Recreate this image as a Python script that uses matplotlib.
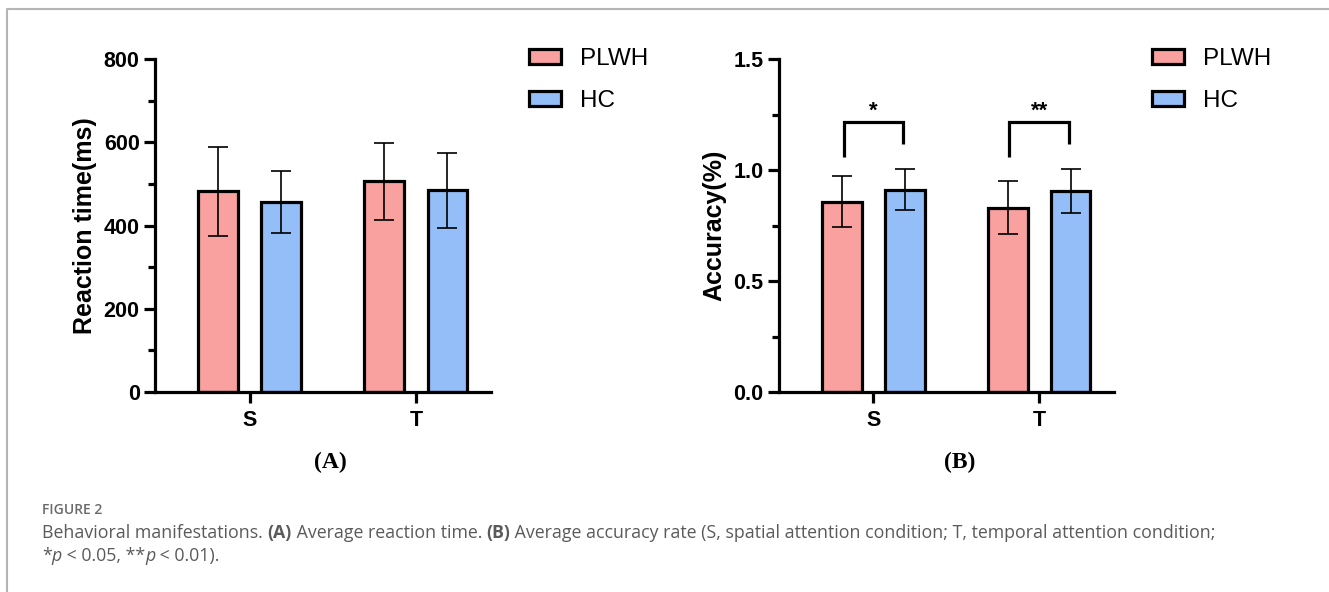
import matplotlib
matplotlib.use("Agg")
import matplotlib.pyplot as plt
import numpy as np
from matplotlib.lines import Line2D
from matplotlib.patches import Patch
from matplotlib.ticker import MultipleLocator

# data
conditions = ["S", "T"]
groups = ["PLWH", "HC"]
rt_mean = {"PLWH": [482, 506], "HC": [456, 485]}
rt_sd = {"PLWH": [107, 93], "HC": [75, 90]}
acc_mean = {"PLWH": [0.858, 0.831], "HC": [0.912, 0.906]}
acc_sd = {"PLWH": [0.116, 0.121], "HC": [0.093, 0.099]}
sig_labels = ["*", "**"]

colors = {"PLWH": "#F9A19F", "HC": "#93BEF8"}
W, H = 1329, 592

plt.rcParams["font.family"] = ["Liberation Sans", "DejaVu Sans"]

fig = plt.figure(figsize=(W / 100, H / 100), dpi=100)


def px_axes(x0, x1, y0, y1):
    return fig.add_axes([x0 / W, 1 - y1 / H, (x1 - x0) / W, (y1 - y0) / H])


def draw_panel(ax, means, sds, ymax, major, ylabel, fmt):
    x = np.arange(len(conditions))
    off, bw = 0.19, 0.24
    for g, sgn in zip(groups, [-1, 1]):
        ax.bar(x + sgn * off, means[g], bw, color=colors[g], edgecolor="black",
               linewidth=2.3, zorder=1)
        ax.errorbar(x + sgn * off, means[g], yerr=sds[g], fmt="none",
                    ecolor="black", elinewidth=1.2, capsize=7.5, capthick=1.2,
                    zorder=3)
    ax.set_xlim(-0.57, 1.452)
    ax.set_ylim(0, ymax)
    ax.spines[["top", "right"]].set_visible(False)
    for s in ["left", "bottom"]:
        ax.spines[s].set_linewidth(2.3)
    ax.yaxis.set_major_locator(MultipleLocator(major))
    ax.yaxis.set_minor_locator(MultipleLocator(major / 2))
    ax.yaxis.set_major_formatter(fmt)
    ax.tick_params(axis="y", which="major", length=8, width=2.3, labelsize=15.5, pad=3)
    ax.tick_params(axis="y", which="minor", length=5, width=2.3)
    ax.set_xticks(x)
    ax.set_xticklabels(conditions)
    ax.tick_params(axis="x", length=8, width=2.3, labelsize=15.5, pad=5)
    for lab in ax.get_xticklabels() + ax.get_yticklabels():
        lab.set_fontweight("bold")
    ax.set_ylabel(ylabel, fontsize=18, fontweight="bold", labelpad=5)
    return [Patch(facecolor=colors[g], edgecolor="black", linewidth=2.3) for g in groups]


axA = px_axes(155, 491, 59, 392)
hA = draw_panel(axA, rt_mean, rt_sd, 800, 200, "Reaction time(ms)", "{x:.0f}")
axB = px_axes(779, 1114, 59, 392)
hB = draw_panel(axB, acc_mean, acc_sd, 1.5, 0.5, "Accuracy(%)", "{x:.1f}")

for ax, h, lx in [(axA, hA, 529), (axB, hB, 1152)]:
    ax.legend(h, groups, loc="upper left", bbox_to_anchor=(lx / W, 1 - 48 / H),
              bbox_transform=fig.transFigure, frameon=False, fontsize=17.5,
              handlelength=1.3, handleheight=0.55, handletextpad=0.8,
              labelspacing=0.82, borderpad=0, borderaxespad=0)

# significance brackets on panel B
for i, lab in enumerate(sig_labels):
    xl, xr = i - 0.18, i + 0.18
    axB.plot([xl, xl, xr, xr], [1.06, 1.216, 1.216, 1.117], color="black",
             lw=2.3, solid_joinstyle="miter", solid_capstyle="butt", clip_on=False)
    axB.text(i, 1.265, lab, ha="center", va="center", fontsize=16, fontweight="bold")

for lab, xc in [("(A)", 330), ("(B)", 960)]:
    fig.text(xc / W, 1 - 462 / H, lab, ha="center", va="center", fontsize=17,
             fontweight="bold", family="Liberation Serif")

# page frame
fig.add_artist(Line2D([7 / W, 7 / W, 1], [0, 1 - 9 / H, 1 - 9 / H], color="#b5b5b5", lw=1.5))

# caption
cap = dict(family="Open Sans", color="#5a5a5a", fontsize=12.8)
fig.text(42 / W, 1 - 510 / H, "FIGURE 2", va="center", ha="left",
         family="Open Sans", color="#6a6a6a", fontsize=10, fontweight="semibold")

line2 = [("Behavioral manifestations. ", {}), ("(A)", {"fontweight": "bold"}),
         (" Average reaction time. ", {}), ("(B)", {"fontweight": "bold"}),
         (" Average accuracy rate (S, spatial attention condition; T, temporal attention condition;", {})]
line3 = [("*", {}), ("p", {"style": "italic"}), (" < 0.05, **", {}),
         ("p", {"style": "italic"}), (" < 0.01).", {})]

helper = fig.add_axes([0, 0, 1, 1], frameon=False)
helper.set_axis_off()
for pieces, y in [(line2, 538), (line3, 561)]:
    prev = helper.annotate(pieces[0][0], xy=(42 / W, 1 - y / H), xycoords="figure fraction",
                           va="baseline", ha="left", **cap, **pieces[0][1])
    for s, kw in pieces[1:]:
        prev = helper.annotate(s, xy=(1, 0), xycoords=prev, va="bottom", ha="left",
                               **cap, **kw)

fig.savefig("out.png", dpi=100)
